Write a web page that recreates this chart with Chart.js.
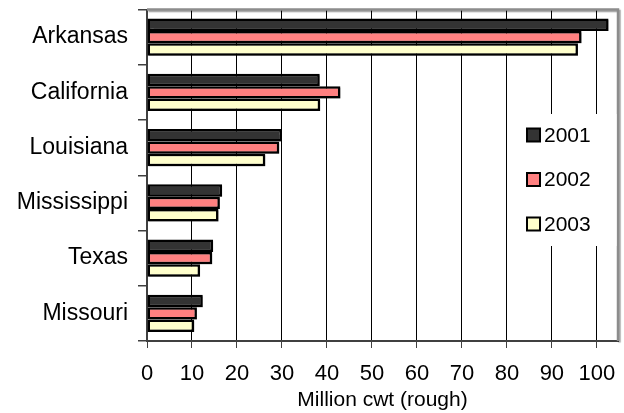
<!DOCTYPE html>
<html>
<head>
<meta charset="utf-8">
<script src="https://cdn.jsdelivr.net/npm/chart.js@4/dist/chart.umd.min.js"></script>
<style>
  html, body { margin: 0; padding: 0; background: #fff; }
  #wrap { width: 624px; height: 413px; }
</style>
</head>
<body>
<div id="wrap"><canvas id="c" width="624" height="413"></canvas></div>
<script>
// Rice production by state, million cwt (rough)
const categories = ['Arkansas', 'California', 'Louisiana', 'Mississippi', 'Texas', 'Missouri'];
const seriesNames = ['2001', '2002', '2003'];
const values2001 = [102.6, 38.4, 30.0, 16.7, 14.7, 12.4];
const values2002 = [96.6, 43.0, 29.4, 16.2, 14.5, 11.1];
const values2003 = [95.8, 38.5, 26.3, 15.9, 11.8, 10.5];
const xTicks = [0, 10, 20, 30, 40, 50, 60, 70, 80, 90, 100];
const axisTitle = 'Million cwt (rough)';

const fills = ['#333333', '#FF8080', '#FFFFCC'];
const FONT = '"Liberation Sans", Arial, sans-serif';

// soft drop shadow under the bars
const barShadow = {
  id: 'barShadow',
  beforeDatasetsDraw(chart) {
    const ctx = chart.ctx;
    ctx.save();
    ctx.shadowColor = 'rgba(0,0,0,0.35)';
    ctx.shadowOffsetX = 1.5;
    ctx.shadowOffsetY = 1.5;
    ctx.shadowBlur = 1;
  },
  afterDatasetsDraw(chart) {
    chart.ctx.restore();
  }
};

// grey frame on the top and right of the plot area
const plotFrame = {
  id: 'plotFrame',
  beforeDatasetsDraw(chart) {
    const { ctx, chartArea: a } = chart;
    ctx.save();
    ctx.strokeStyle = '#8c8c8c';
    ctx.lineWidth = 2.5;
    ctx.beginPath();
    ctx.moveTo(a.left, a.top);
    ctx.lineTo(a.right, a.top);
    ctx.lineTo(a.right, a.bottom);
    ctx.stroke();
    ctx.restore();
  }
};

// legend box inside the plot area
const innerLegend = {
  id: 'innerLegend',
  afterDraw(chart) {
    const ctx = chart.ctx;
    const a = chart.chartArea;
    ctx.save();
    ctx.fillStyle = '#ffffff';
    ctx.fillRect(512, 114, a.right - 1.5 - 512, 132);
    const rows = [135, 179.5, 224];
    chart.data.datasets.forEach((ds, i) => {
      const cy = rows[i];
      ctx.fillStyle = ds.backgroundColor;
      ctx.fillRect(527, cy - 6.5, 13, 13);
      ctx.strokeStyle = '#000';
      ctx.lineWidth = 2;
      ctx.strokeRect(527, cy - 6.5, 13, 13);
      ctx.fillStyle = '#000';
      ctx.font = '21px ' + FONT;
      ctx.textBaseline = 'middle';
      ctx.textAlign = 'left';
      ctx.fillText(ds.label, 544, cy + 1);
    });
    ctx.restore();
  }
};

const datasets = [values2001, values2002, values2003].map((vals, i) => ({
  label: seriesNames[i],
  data: vals,
  backgroundColor: fills[i],
  borderColor: '#000000',
  borderWidth: 2.5,
  borderSkipped: false,
  categoryPercentage: 0.67,
  barPercentage: 1.0
}));

new Chart(document.getElementById('c'), {
  type: 'bar',
  data: { labels: categories, datasets },
  plugins: [barShadow, plotFrame, innerLegend],
  options: {
    indexAxis: 'y',
    responsive: false,
    animation: false,
    devicePixelRatio: 1,
    layout: { padding: { top: 9.5, right: 6, left: 0, bottom: 0 } },
    plugins: {
      legend: { display: false },
      tooltip: { enabled: false },
      title: { display: false }
    },
    scales: {
      x: {
        type: 'linear',
        min: 0,
        max: 104.7,
        afterBuildTicks(scale) {
          scale.ticks = xTicks.map(v => ({ value: v }));
        },
        afterFit(scale) {
          scale.height = 72;
          scale.paddingLeft = 0;
          scale.paddingRight = 0;
        },
        grid: {
          color: '#000000',
          lineWidth: 1,
          drawTicks: true,
          tickLength: 7,
          tickColor: '#404040'
        },
        border: { display: true, color: '#404040', width: 2 },
        ticks: {
          color: '#000',
          font: { family: FONT, size: 22 },
          padding: 13,
          maxRotation: 0,
          autoSkip: false
        },
        title: {
          display: true,
          text: axisTitle,
          color: '#000',
          font: { family: FONT, size: 21 },
          padding: { top: 0, bottom: 0 }
        }
      },
      y: {
        afterFit(scale) {
          scale.width = 147;
          scale.paddingTop = 0;
          scale.paddingBottom = 0;
        },
        grid: {
          drawOnChartArea: false,
          drawTicks: true,
          tickLength: 9,
          offset: true,
          color: '#404040',
          lineWidth: 1.5
        },
        border: { display: true, color: '#404040', width: 2 },
        ticks: {
          color: '#000',
          font: { family: FONT, size: 23 },
          padding: 10,
          autoSkip: false
        }
      }
    }
  }
});
</script>
</body>
</html>
